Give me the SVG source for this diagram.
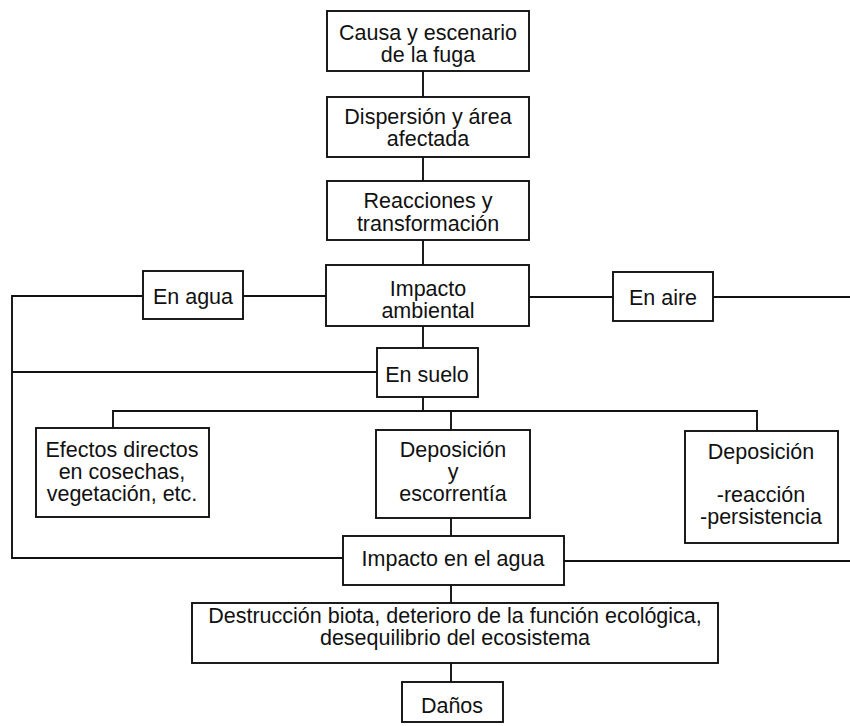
<svg xmlns="http://www.w3.org/2000/svg" width="850" height="726" viewBox="0 0 850 726">
  <style>
    .box { fill: #ffffff; stroke: #111111; stroke-width: 1.9; }
    .wire { fill: none; stroke: #111111; stroke-width: 1.9; }
    text { font-family: "Liberation Sans", Arial, sans-serif; font-size: 21.5px; fill: #111111; text-anchor: middle; }
  </style>
  <rect width="850" height="726" fill="#ffffff"/>

  <!-- connectors -->
  <g id="connectors" class="wire">
    <path d="M423 71 V97"/>
    <path d="M423 157 V181"/>
    <path d="M423 240 V265"/>
    <path d="M243 296 H326"/>
    <path d="M529 297 H613"/>
    <path d="M713 297 H850"/>
    <path d="M143 296 H12 V558 H343"/>
    <path d="M12 372 H377"/>
    <path d="M423 326 V348"/>
    <path d="M423 397 V411"/>
    <path d="M113 428 V411 H757 V431"/>
    <path d="M451 411 V430"/>
    <path d="M451 518 V536"/>
    <path d="M564 561 H850"/>
    <path d="M451 585 V603"/>
    <path d="M451 663 V682"/>
  </g>

  <g id="causa">
    <rect class="box" x="327" y="11" width="202" height="60"/>
    <text x="428" y="40">Causa y escenario</text>
    <text x="428" y="62">de la fuga</text>
  </g>
  <g id="dispersion">
    <rect class="box" x="327" y="97" width="202" height="60"/>
    <text x="428" y="124">Dispersión y área</text>
    <text x="428" y="146">afectada</text>
  </g>
  <g id="reacciones">
    <rect class="box" x="327" y="181" width="202" height="59"/>
    <text x="428" y="208">Reacciones y</text>
    <text x="428" y="231">transformación</text>
  </g>
  <g id="impacto-ambiental">
    <rect class="box" x="326" y="265" width="203" height="61"/>
    <text x="428" y="296">Impacto</text>
    <text x="428" y="318">ambiental</text>
  </g>
  <g id="en-agua">
    <rect class="box" x="143" y="271" width="100" height="48"/>
    <text x="193" y="304">En agua</text>
  </g>
  <g id="en-aire">
    <rect class="box" x="613" y="272" width="100" height="49"/>
    <text x="663" y="305">En aire</text>
  </g>
  <g id="en-suelo">
    <rect class="box" x="377" y="348" width="101" height="49"/>
    <text x="427" y="382">En suelo</text>
  </g>
  <g id="efectos-directos">
    <rect class="box" x="36" y="428" width="173" height="89"/>
    <text x="122" y="457">Efectos directos</text>
    <text x="122" y="479">en cosechas,</text>
    <text x="122" y="501">vegetación, etc.</text>
  </g>
  <g id="deposicion-escorrentia">
    <rect class="box" x="376" y="430" width="154" height="88"/>
    <text x="453" y="457">Deposición</text>
    <text x="453" y="479">y</text>
    <text x="453" y="501">escorrentía</text>
  </g>
  <g id="deposicion-reaccion">
    <rect class="box" x="685" y="431" width="153" height="112"/>
    <text x="761" y="459">Deposición</text>
    <text x="761" y="502">-reacción</text>
    <text x="761" y="524">-persistencia</text>
  </g>
  <g id="impacto-agua">
    <rect class="box" x="343" y="536" width="221" height="49"/>
    <text x="453" y="566">Impacto en el agua</text>
  </g>
  <g id="destruccion">
    <rect class="box" x="192" y="603" width="526" height="60"/>
    <text x="455" y="623">Destrucción biota, deterioro de la función ecológica,</text>
    <text x="455" y="645">desequilibrio del ecosistema</text>
  </g>
  <g id="danos">
    <rect class="box" x="402" y="682" width="101" height="40"/>
    <text x="452" y="713">Daños</text>
  </g>
</svg>
